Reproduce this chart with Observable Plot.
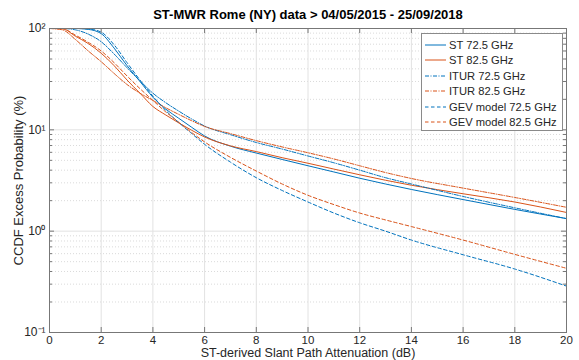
<!DOCTYPE html>
<html>
<head>
<meta charset="utf-8">
<script src="https://cdn.jsdelivr.net/npm/d3@7"></script>
<script src="https://cdn.jsdelivr.net/npm/@observablehq/plot@0.6"></script>
<style>
  html, body { margin: 0; padding: 0; background: #fff; }
  #wrap { position: relative; width: 579px; height: 360px; font-family: "Liberation Sans", Arial, Helvetica, sans-serif; }
  #legend { position: absolute; left: 421px; top: 33px; width: 140px; height: 93px; padding-top: 3px;
            background: #fff; border: 1px solid #8a8a8a; }
  .row { height: 15.5px; display: flex; align-items: center; font-size: 11.2px; color: #262626; white-space: nowrap; }
  .row svg { margin-left: 3px; margin-right: 3px; flex: none; }
</style>
</head>
<body>
<div id="wrap"><div id="chart"></div><div id="legend"></div></div>
<script>
// Slant path attenuation (dB) at which each CCDF is sampled
const attenuation = [0, 0.5, 1, 1.5, 2, 2.5, 3, 3.5, 4, 4.5, 5, 5.5, 6, 7, 8, 9, 10, 11, 12, 13, 14, 16, 18, 20];

// Exceedance probability (%) for each curve
const st725   = [100, 100, 100, 98, 89, 64, 43, 30, 21, 16, 13, 10.6, 8.7, 6.9, 5.9, 5.1, 4.42, 3.84, 3.33, 2.92, 2.58, 2.05, 1.64, 1.33];
const st825   = [100, 99.5, 84, 71, 57, 43, 31, 23, 17, 14, 11.7, 9.9, 8.5, 6.95, 6.1, 5.31, 4.68, 4.1, 3.6, 3.18, 2.84, 2.34, 1.94, 1.53];
const itur725 = [100, 100, 97, 88, 74, 56, 41, 30.5, 23, 18.5, 15.3, 12.8, 10.9, 8.96, 7.5, 6.46, 5.52, 4.73, 4.0, 3.37, 2.92, 2.2, 1.7, 1.33];
const itur825 = [100, 97, 78, 60, 47, 36, 28, 23, 19.5, 16.5, 14.2, 12.3, 10.8, 9.18, 7.82, 6.78, 5.94, 5.16, 4.42, 3.79, 3.31, 2.66, 2.15, 1.72];
const gev725  = [100, 100, 100, 99, 92, 69, 46, 31, 21.5, 15.5, 11.8, 9.2, 7.2, 4.8, 3.37, 2.52, 1.94, 1.51, 1.21, 1.0, 0.817, 0.585, 0.423, 0.287];
const gev825  = [100, 99.5, 86, 73, 60, 46, 34, 25.5, 19.5, 15, 11.9, 9.4, 7.6, 5.35, 3.92, 2.92, 2.26, 1.83, 1.51, 1.29, 1.11, 0.817, 0.59, 0.43];

const seriesNames = ["ST 72.5 GHz", "ST 82.5 GHz", "ITUR 72.5 GHz", "ITUR 82.5 GHz", "GEV model 72.5 GHz", "GEV model 82.5 GHz"];
const seriesValues = [st725, st825, itur725, itur825, gev725, gev825];

const xTicks = [0, 2, 4, 6, 8, 10, 12, 14, 16, 18, 20];
const yTicks = [0.1, 1, 10, 100];
const yTickLabels = ["10\u207B\u00B9", "10\u2070", "10\u00B9", "10\u00B2"];

const titleText = "ST-MWR Rome (NY) data > 04/05/2015 - 25/09/2018";
const xLabel = "ST-derived Slant Path Attenuation (dB)";
const yLabel = "CCDF Excess Probability (%)";

// Line styling
const blue = "#0072BD", orange = "#D95319";
const colors = [blue, orange, blue, orange, blue, orange];
const dashes = [null, null, "4,1.5,1,1.5", "4,1.5,1,1.5", "3.5,2.5", "3.5,2.5"];

const W = 579, H = 360;
const mL = 49, mR = 13, mT = 28, mB = 28;
const plotW = W - mL - mR, plotH = H - mT - mB;

// minor decade lines 2..9 in each decade
const minorY = [];
for (const d of [0.1, 1, 10]) for (let k = 2; k <= 9; k++) minorY.push(+(d * k).toPrecision(3));

const lineMarks = seriesValues.map((vals, i) => {
  const rows = attenuation.map((a, j) => ({a, p: vals[j]}));
  return Plot.line(rows, {
    x: "a", y: "p", stroke: colors[i], strokeWidth: 1,
    strokeDasharray: dashes[i] ?? undefined, curve: "monotone-x"
  });
});

const chart = Plot.plot({
  width: W, height: H,
  marginLeft: mL, marginRight: mR, marginTop: mT, marginBottom: mB,
  style: {background: "#fff", fontFamily: "'Liberation Sans', Arial, Helvetica, sans-serif", fontSize: "12px", color: "#262626"},
  x: {domain: [0, 20]},
  y: {type: "log", domain: [0.1, 100]},
  marks: [
    // grid
    Plot.ruleY(minorY, {stroke: "#d0d0d0", strokeWidth: 0.8, strokeDasharray: "1,2"}),
    Plot.ruleY(yTicks.slice(1, -1), {stroke: "#e2e2e2"}),
    Plot.ruleX(xTicks.slice(1, -1), {stroke: "#e2e2e2"}),
    // curves
    ...lineMarks,
    // inward tick marks on all four sides
    Plot.tickX(xTicks, {x: d => d, insetTop: plotH - 5, stroke: "#777"}),
    Plot.tickX(xTicks, {x: d => d, insetBottom: plotH - 5, stroke: "#777"}),
    Plot.tickY(yTicks, {y: d => d, insetRight: plotW - 5, stroke: "#777"}),
    Plot.tickY(yTicks, {y: d => d, insetLeft: plotW - 5, stroke: "#777"}),
    Plot.tickY(minorY, {y: d => d, insetRight: plotW - 3, stroke: "#777"}),
    Plot.tickY(minorY, {y: d => d, insetLeft: plotW - 3, stroke: "#777"}),
    Plot.frame({stroke: "#777"}),
    // axes
    Plot.axisX({ticks: xTicks, tickSize: 0, tickPadding: 3, label: null, fontSize: 11.5}),
    Plot.axisY({ticks: yTicks, tickSize: 0, tickPadding: 4, label: null, fontSize: 12,
                tickFormat: d => yTickLabels[yTicks.indexOf(d)]}),
    // titles
    Plot.text([titleText], {frameAnchor: "top", lineAnchor: "middle", dy: -14, fontSize: 13, fontWeight: "bold", fill: "#000"}),
    Plot.text([xLabel], {frameAnchor: "bottom", lineAnchor: "middle", dy: 20, fontSize: 12.5, fill: "#262626"}),
    Plot.text([yLabel], {frameAnchor: "left", textAnchor: "middle", lineAnchor: "middle", dx: -31, rotate: -90, fontSize: 13, fill: "#262626"})
  ]
});
document.getElementById("chart").append(chart);

// legend box
const legend = document.getElementById("legend");
seriesNames.forEach((name, i) => {
  const row = document.createElement("div");
  row.className = "row";
  const dash = dashes[i] ? ` stroke-dasharray="${dashes[i]}"` : "";
  row.innerHTML = `<svg width="21" height="6"><line x1="0" y1="3" x2="21" y2="3" stroke="${colors[i]}" stroke-width="1"${dash}/></svg><span>${name}</span>`;
  legend.append(row);
});
</script>
</body>
</html>
